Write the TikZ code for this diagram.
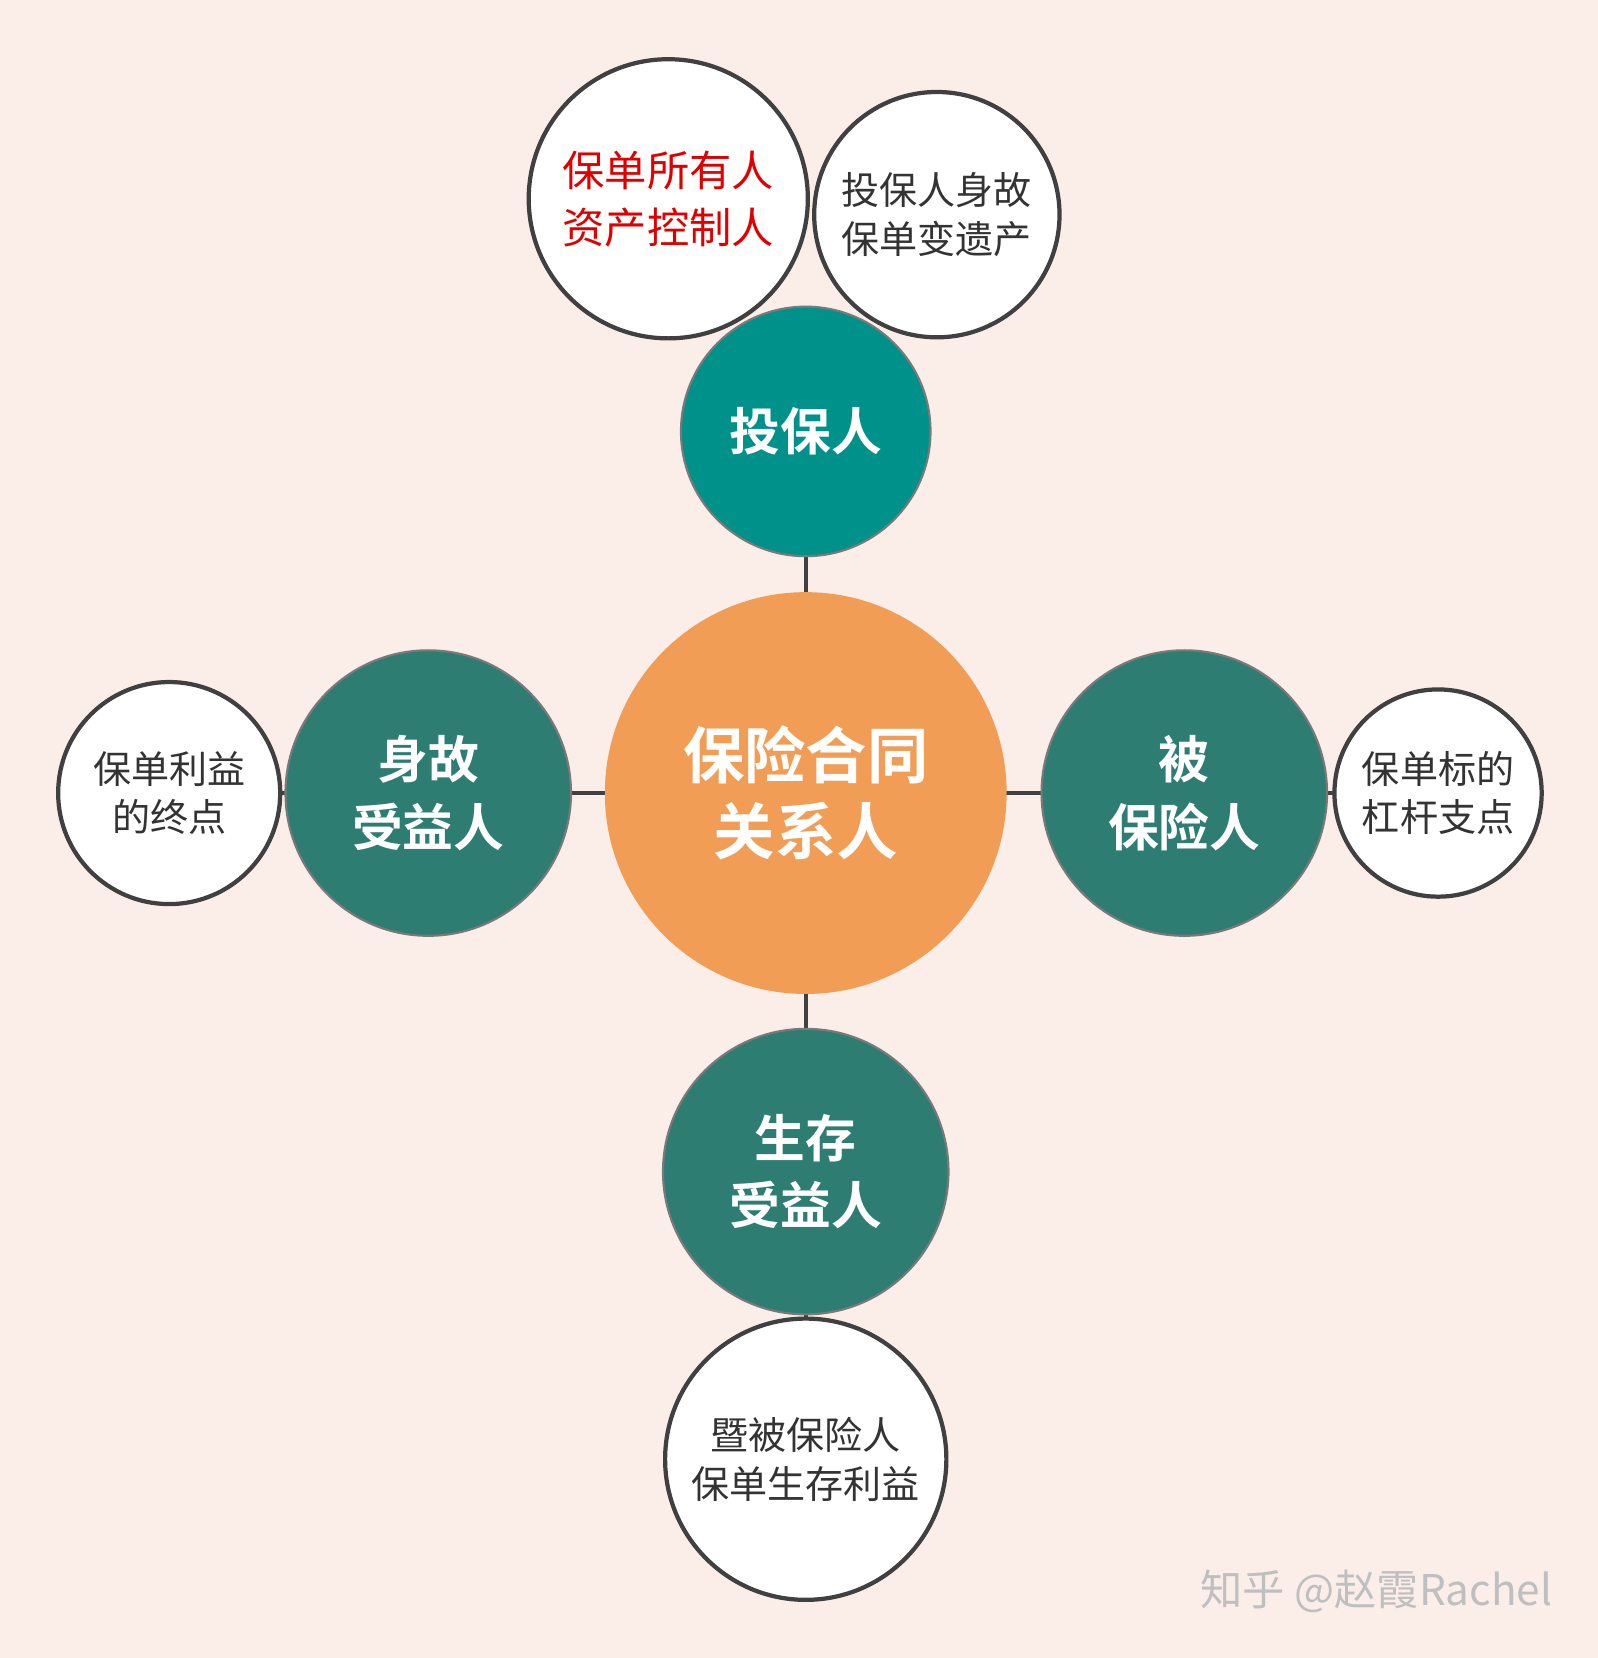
\documentclass[tikz,border=0pt]{standalone}
\usepackage{fontspec}
\setmainfont{Noto Sans CJK SC}
\newfontfamily\cjkb{Noto Sans CJK SC Bold}
\definecolor{bg}{HTML}{FBEEE9}
\definecolor{orangec}{HTML}{F19D56}
\definecolor{tealA}{HTML}{00918A}
\definecolor{tealB}{HTML}{2E7D72}
\definecolor{edge}{HTML}{404040}
\definecolor{redt}{HTML}{E00000}
\begin{document}
\begin{tikzpicture}[x=0.5pt,y=-0.5pt,
  circ/.style={circle,inner sep=0pt,align=center},
  whitec/.style={circ,fill=white,draw=edge,line width=2pt,font=\fontsize{18}{23}\selectfont,text=black!80},
  tealc/.style={circ,draw=edge!70,line width=1pt,text=white,font=\cjkb\fontsize{24}{32}\selectfont},
  conn/.style={draw=edge,line width=2pt}]
\fill[bg] (0,0) rectangle (1511,1568);
\useasboundingbox (0,0) rectangle (1511,1568);
\path[conn] (762,408) -- (762,1108);
\path[conn] (160,750) -- (1360,750);
\path[conn] (762,1108) -- (762,1380);
\node[circ,fill=orangec,minimum size=190pt,text=white,font=\cjkb\fontsize{29}{36}\selectfont] (center) at (762,750) {保险合同\\关系人};
\node[tealc,fill=tealA,minimum size=118pt] (tb) at (762,408) {投保人};
\node[tealc,fill=tealB,minimum size=135pt] (sg) at (405,750) {身故\\受益人};
\node[tealc,fill=tealB,minimum size=135pt] (bb) at (1120,750) {被\\保险人};
\node[tealc,fill=tealB,minimum size=135pt] (sc) at (762,1108) {生存\\受益人};
\node[whitec,minimum size=132pt,text=redt,font=\fontsize{20}{27}\selectfont] (o1) at (632,188) {保单所有人\\资产控制人};
\node[whitec,minimum size=116pt] (o2) at (886,203) {投保人身故\\保单变遗产};
\node[whitec,minimum size=105pt] (o3) at (160,750) {保单利益\\的终点};
\node[whitec,minimum size=98pt] (o4) at (1360,750) {保单标的\\杠杆支点};
\node[whitec,minimum size=133pt] (o5) at (762,1380) {暨被保险人\\保单生存利益};
\node[text=black!25,font=\fontsize{20}{24}\selectfont,anchor=east] (wm) at (1475,1505) {知乎 @赵霞Rachel};
\end{tikzpicture}
\end{document}
